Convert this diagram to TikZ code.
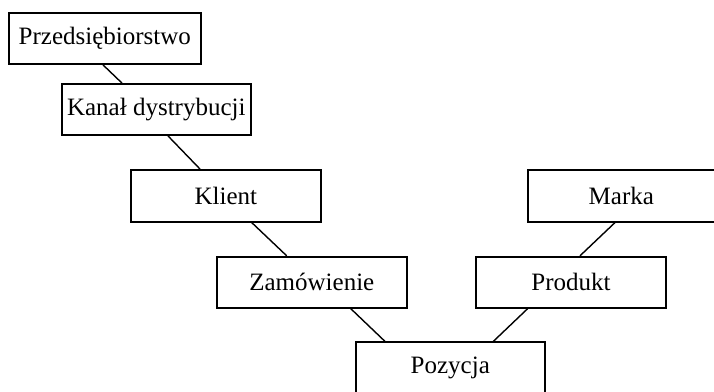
\documentclass[tikz,border=0pt]{standalone}
\usepackage{fontspec}
\setmainfont{Liberation Serif}
\begin{document}
\begin{tikzpicture}[x=1pt,y=-1pt,
  ent/.style={draw=black,line width=1.8pt,fill=white,inner sep=0pt,minimum height=51pt,
    font=\fontsize{25}{30}\selectfont},
  link/.style={draw=black,line width=1.4pt}]
\useasboundingbox (0,0) rectangle (714,391);
\clip (0,0) rectangle (714,391);
\fill[white] (0,0) rectangle (714,391);
\node[ent,minimum width=191.7pt] (P) at (104.8,38.5) {Przedsiębiorstwo};
\node[ent,minimum width=188.7pt] (K) at (156.3,109.5) {Kanał dystrybucji};
\node[ent,minimum width=190.3pt,minimum height=51.7pt] (Kl) at (225.8,195.8) {Klient};
\node[ent,minimum width=190.3pt] (Z) at (311.8,282.2) {Zamówienie};
\node[ent,minimum width=189.3pt] (Poz) at (450.3,367.8) {Pozycja};
\node[ent,minimum width=187.3pt,minimum height=51.7pt] (M) at (621.3,195.8) {Marka};
\node[ent,minimum width=190pt] (Pr) at (571,282.2) {Produkt};
\draw[link] ([xshift=-1.8pt]P.south) -- ([xshift=-34.3pt]K.north);
\draw[link] ([xshift=11.7pt]K.south) -- ([xshift=-25.8pt]Kl.north);
\draw[link] ([xshift=25.9pt]Kl.south) -- ([xshift=-25.1pt]Z.north);
\draw[link] ([xshift=38.9pt]Z.south) -- ([xshift=-65.3pt]Poz.north);
\draw[link] ([xshift=-43.3pt]Pr.south) -- ([xshift=43pt]Poz.north);
\draw[link] ([xshift=-6.3pt]M.south) -- ([xshift=9pt]Pr.north);
\end{tikzpicture}
\end{document}
